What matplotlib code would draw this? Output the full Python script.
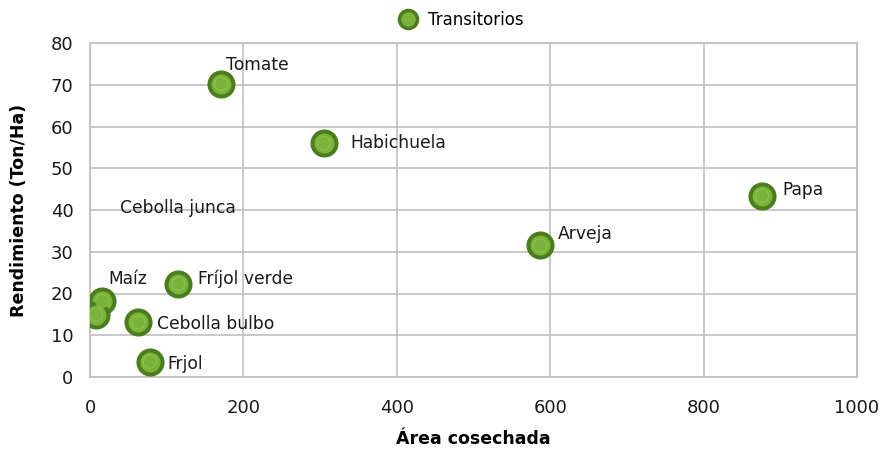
import matplotlib
matplotlib.use("Agg")
import matplotlib.pyplot as plt
from matplotlib.lines import Line2D

# data
crops = ["Tomate", "Habichuela", "Papa", "Arveja", "Fríjol verde",
         "Maíz", "Cebolla junca", "Cebolla bulbo", "Frjol"]
area = [171, 305, 876, 587, 115, 16, 8, 63, 78]
yield_t = [70.2, 56.0, 43.4, 31.5, 22.3, 18.2, 14.9, 13.1, 3.7]

# label offsets in pixels (dx right, dy up)
offsets = {
    "Tomate": (5, 19), "Habichuela": (26, 0), "Papa": (20, 6),
    "Arveja": (18, 11), "Fríjol verde": (20, 5), "Maíz": (6, 22),
    "Cebolla junca": (24, 107), "Cebolla bulbo": (19, -2), "Frjol": (18, -2),
}

DARK = "#4b7d1d"
LIGHT = "#7ab33a"
HILITE = "#9ccc5a"
GRID = "#bfbfbf"

plt.rcParams["font.family"] = ["DejaVu Sans"]

fig = plt.figure(figsize=(8.83, 4.5), dpi=100)
ax = fig.add_axes([90 / 883, 73 / 450, 767 / 883, 334 / 450])

ax.scatter(area, yield_t, s=300, c=LIGHT, edgecolors=DARK, linewidths=2.9, zorder=3)
ax.scatter(area, yield_t, s=110, c=HILITE, edgecolors="none", alpha=0.55, zorder=4)
ax.scatter(area, yield_t, s=75, c=LIGHT, edgecolors="none", zorder=5)

for name, x, y in zip(crops, area, yield_t):
    dx, dy = offsets[name]
    ax.annotate(name, (x, y), xytext=(dx, dy), textcoords="offset pixels",
                ha="left", va="center", fontsize=12.3, color="#1a1a1a", zorder=6)

ax.set_xlim(0, 1000)
ax.set_ylim(0, 80)
ax.set_xticks(range(0, 1001, 200))
ax.set_yticks(range(0, 81, 10))
ax.grid(True, color=GRID, linewidth=1.2)
ax.set_axisbelow(True)
for sp in ax.spines.values():
    sp.set_color(GRID)
    sp.set_linewidth(1.2)
ax.tick_params(axis="x", length=0, labelsize=13, colors="#1a1a1a", pad=16)
ax.tick_params(axis="y", length=0, labelsize=13, colors="#1a1a1a", pad=12)

ax.set_xlabel("Área cosechada", fontsize=12.5, fontweight="bold", labelpad=9)
ax.set_ylabel("Rendimiento (Ton/Ha)", fontsize=12.5, fontweight="bold", labelpad=16)

handle = Line2D([], [], linestyle="none", marker="o", markersize=13,
                markerfacecolor=LIGHT, markeredgecolor=DARK, markeredgewidth=2.5)
fig.legend([handle], ["Transitorios"], loc="center", bbox_to_anchor=(457 / 883, 1 - 20 / 450),
           frameon=False, fontsize=12, handletextpad=0.2, borderaxespad=0)

fig.savefig("out.png", dpi=100)
